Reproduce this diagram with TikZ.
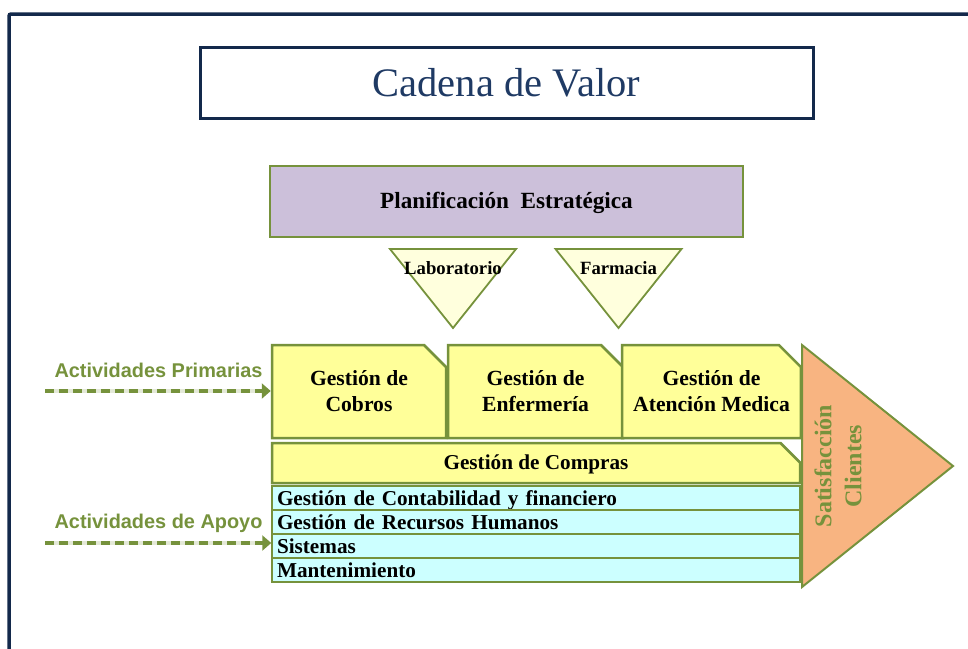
\documentclass[tikz,border=0pt]{standalone}
\usepackage{fontspec}
\setmainfont{Liberation Serif}
\newfontfamily\arialfont{Liberation Sans}
\usetikzlibrary{shapes.misc,arrows.meta}
\definecolor{marino}{HTML}{13294B}
\definecolor{titulo}{HTML}{1F3A64}
\definecolor{oliva}{HTML}{76923C}
\definecolor{lila}{HTML}{CCC0DA}
\definecolor{amarillo}{HTML}{FFFF99}
\definecolor{crema}{HTML}{FFFFDD}
\definecolor{celeste}{HTML}{CCFFFF}
\definecolor{naranja}{HTML}{F8B481}
\begin{document}
\begin{tikzpicture}[x=1pt,y=-1pt,
    borde/.style={draw=oliva,line width=2.5pt},
    caja/.style={borde,fill=amarillo,chamfered rectangle,chamfered rectangle corners=north east,
        chamfered rectangle xsep=11pt,chamfered rectangle ysep=11pt,inner sep=0pt,align=center,
        font=\bfseries\fontsize{21.6}{26}\selectfont},
    fila/.style={draw=oliva,line width=1.5pt,fill=celeste,minimum width=528pt,text width=518pt,align=left,
        inner xsep=5pt,inner ysep=2pt,text height=17pt,text depth=3pt,font=\bfseries\fontsize{21.2}{22}\selectfont},
    etiqueta/.style={oliva,font=\arialfont\bfseries\fontsize{19.9}{22}\selectfont},
    flecha/.style={oliva,line width=4.5pt,dash pattern=on 9pt off 5pt,-{Triangle[length=9pt,width=15pt]}}]
    \useasboundingbox (0,0) rectangle (968,648);
    % marco
    \draw[marino,line width=3.5pt,rounded corners=2pt] (9,660) -- (9,14) -- (980,14);
    \node[draw=marino,line width=3pt,minimum width=613pt,minimum height=71pt,text=titulo,
        font=\fontsize{40.5}{44}\selectfont] (titulo) at (506.5,82.5) {Cadena de Valor};
    \node[borde,fill=lila,minimum width=473pt,minimum height=71pt,text height=16pt,text depth=2pt,
        font=\bfseries\fontsize{23.2}{26}\selectfont] (plan) at (506.5,201.5) {Planificación\ \ Estratégica};
    % triangulos
    \foreach \n/\x/\t in {lab/453/Laboratorio,farm/618.5/Farmacia} {
        \draw[draw=oliva,line width=1.8pt,fill=crema] (\x-63,249) -- (\x+63,249) -- (\x,328) -- cycle;
        \node[font=\bfseries\fontsize{18.7}{20}\selectfont] (\n) at (\x,268) {\t};
    }
    % actividades primarias
    \node[caja,minimum width=174pt,minimum height=93pt] (cobros) at (359,391.5) {Gestión de\\Cobros};
    \node[caja,minimum width=175pt,minimum height=93pt] (enfermeria) at (535.5,391.5) {Gestión de\\Enfermería};
    \node[caja,minimum width=173pt,minimum height=93pt] (atencion) at (711.5,391.5) {Gestión de\\Atención Medica};
    \node[caja,minimum width=528pt,minimum height=40pt,text height=15pt,text depth=2pt,
        font=\bfseries\fontsize{21.2}{26}\selectfont] (compras) at (536,463) {Gestión de Compras};
    % actividades de apoyo
    \foreach \t [count=\i] in {Gestión de Contabilidad y financiero,Gestión de Recursos Humanos,Sistemas,Mantenimiento} {
        \node[fila] (apoyo\i) at (536,{498+24*(\i-1)}) {\t};
    }
    \draw[borde,line width=2pt,fill=naranja] (802,345) -- (953,466) -- (802,587) -- cycle;
    \node[rotate=90,oliva,align=center,font=\bfseries\fontsize{24}{30}\selectfont] (clientes) at (838,466) {Satisfacción\\Clientes};
    % flechas
    \node[etiqueta,anchor=base east] (primarias) at (266,377) {Actividades Primarias};
    \node[etiqueta,anchor=base east] (apoyo) at (266,528) {Actividades de Apoyo};
    \coordinate (p0) at (45,391);
    \coordinate (a0) at (45,543);
    \draw[oliva!20,line width=4.5pt] (p0) -- ++(215,0);
    \draw[oliva!20,line width=4.5pt] (a0) -- ++(215,0);
    \draw[flecha] (p0) -- (p0 -| cobros.west);
    \draw[flecha] (a0) -- (a0 -| apoyo3.west);
\end{tikzpicture}
\end{document}
